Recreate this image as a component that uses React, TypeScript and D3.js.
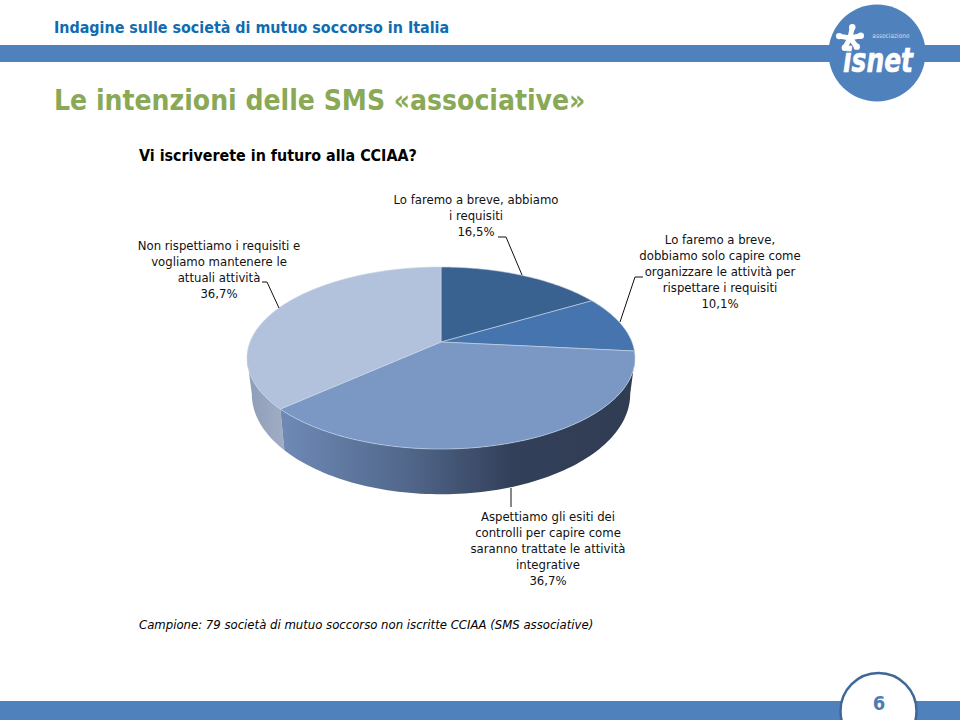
import * as d3 from 'd3';

const sliceLabels = [
  ['Lo faremo a breve, abbiamo', 'i requisiti', '16,5%'],
  ['Lo faremo a breve,', 'dobbiamo solo capire come', 'organizzare le attività per', 'rispettare i requisiti', '10,1%'],
  ['Aspettiamo gli esiti dei', 'controlli per capire come', 'saranno trattate le attività', 'integrative', '36,7%'],
  ['Non rispettiamo i requisiti e', 'vogliamo mantenere le', 'attuali attività', '36,7%'],
];
const sliceValues = [16.5, 10.1, 36.7, 36.7];
const topColors = ['#3a6290', '#4674ae', '#7b98c5', '#b2c2dc'];
const labelAnchors = [
  { x: 476, y: 204 },
  { x: 720, y: 244 },
  { x: 548, y: 521 },
  { x: 219, y: 250 },
];
const leaders = [
  [[522, 275], [506, 237], [498, 237]],
  [[620, 322], [635, 277], [643, 277]],
  [[511, 488], [511, 507]],
  [[279, 308], [267, 282], [262, 282]],
];
const starArms = [-78, -12, 52, 118, 190];

const font = "'DejaVu Sans Condensed', 'DejaVu Sans', sans-serif";
const cx = 441;
const cy = 342;
const R = 191;
const S = 88.2;
const K = 0.176;

// perspective view of the disc, theta clockwise from the top
const project = (theta: number, rScale = 1, sScale = 1, drop = 0): [number, number] => {
  const v = -Math.cos(theta);
  const w = 1 - K * v;
  return [cx + (R * rScale * Math.sin(theta)) / w, cy + drop + (S * sScale * v) / w];
};

const arcPoints = (a0: number, a1: number, rScale = 1, sScale = 1, drop = 0) => {
  const n = Math.max(2, Math.ceil(Math.abs(a1 - a0) * 40));
  return d3.range(n + 1).map(i => project(a0 + ((a1 - a0) * i) / n, rScale, sScale, drop));
};

const line = d3.line();

export default function App() {
  const arcs = d3.pie<number>().sort(null)(sliceValues);
  const rad = Math.PI / 180;
  const rightEdge = 100 * rad;
  const leftEdge = 260 * rad;
  const split = arcs[2].endAngle;
  const bottom = [0.975, 1.1, 34.5] as const;

  const sidePath = (a0: number, a1: number) =>
    line([...arcPoints(a0, a1), ...arcPoints(a1, a0, ...bottom)]) + 'Z';

  return (
    <svg
      width={960}
      height={720}
      style={{ position: 'absolute', left: 0, top: 0, background: '#fff' }}
      fontFamily={font}
    >
      <defs>
        <linearGradient id="sideBig" gradientUnits="userSpaceOnUse" x1={280} x2={635} y1={0} y2={0}>
          <stop offset="0" stopColor="#6e8ab6" />
          <stop offset="0.35" stopColor="#52688c" />
          <stop offset="0.65" stopColor="#33405a" />
          <stop offset="1" stopColor="#2f3c52" />
        </linearGradient>
        <linearGradient id="sideSmall" gradientUnits="userSpaceOnUse" x1={247} x2={284} y1={0} y2={0}>
          <stop offset="0" stopColor="#8e9db8" />
          <stop offset="1" stopColor="#a0adc4" />
        </linearGradient>
      </defs>

      {/* header */}
      <text x={54} y={33} fontSize={15.9} fontWeight="bold" fill="#0f6cb0">
        Indagine sulle società di mutuo soccorso in Italia
      </text>
      <rect x={0} y={45} width={960} height={17} fill="#4f81bd" />
      <text x={54} y={110} fontSize={28} fontWeight="bold" fill="#89a957">
        Le intenzioni delle SMS «associative»
      </text>
      <text x={139} y={161} fontSize={15.9} fontWeight="bold" fill="#000">
        Vi iscriverete in futuro alla CCIAA?
      </text>

      {/* logo */}
      <circle cx={877} cy={53} r={48.5} fill="#4f81bd" />
      <text x={891} y={38} fontSize={6.5} textAnchor="middle" fill="#cfdcee">
        associazione
      </text>
      <text
        x={843}
        y={72}
        fontSize={33}
        fontWeight="bold"
        fontStyle="italic"
        textLength={70}
        lengthAdjust="spacingAndGlyphs"
        fill="#fff"
        stroke="#fff"
        strokeWidth={0.6}
      >
        isnet
      </text>
      {starArms.map(a => (
        <g key={a} fill="#fff" stroke="#fff">
          <line
            x1={850}
            y1={38}
            x2={850 + 11 * Math.cos(a * rad)}
            y2={38 + 11 * Math.sin(a * rad)}
            strokeWidth={5}
          />
          <circle cx={850 + 11 * Math.cos(a * rad)} cy={38 + 11 * Math.sin(a * rad)} r={3.2} stroke="none" />
        </g>
      ))}

      {/* pie sides */}
      <path d={sidePath(leftEdge, split)} fill="url(#sideSmall)" />
      <path d={sidePath(split, rightEdge)} fill="url(#sideBig)" />

      {/* pie top */}
      {arcs.map((a, i) => (
        <path
          key={i}
          d={line([[cx, cy], ...arcPoints(a.startAngle, a.endAngle)]) + 'Z'}
          fill={topColors[i]}
          stroke="#c9d6e8"
          strokeWidth={0.6}
        />
      ))}

      {/* leaders */}
      {leaders.map((pts, i) => (
        <path key={i} d={line(pts as [number, number][]) ?? ''} fill="none" stroke="#111" strokeWidth={1} />
      ))}

      {/* labels */}
      {sliceLabels.map((rows, i) => (
        <text key={i} fontSize={13} textAnchor="middle" fill="#111">
          {rows.map((r, j) => (
            <tspan key={j} x={labelAnchors[i].x} y={labelAnchors[i].y + j * 16}>
              {r}
            </tspan>
          ))}
        </text>
      ))}

      <text x={139} y={629} fontSize={13} fontStyle="italic" fill="#000">
        Campione: 79 società di mutuo soccorso non iscritte CCIAA (SMS associative)
      </text>

      {/* footer */}
      <rect x={0} y={701} width={960} height={19} fill="#4f81bd" />
      <circle cx={878.5} cy={711} r={38} fill="#fff" stroke="#3f6797" strokeWidth={2.5} />
      <text x={879} y={710} fontSize={20} fontWeight="bold" textAnchor="middle" fill="#4f7cb0">
        6
      </text>
    </svg>
  );
}
